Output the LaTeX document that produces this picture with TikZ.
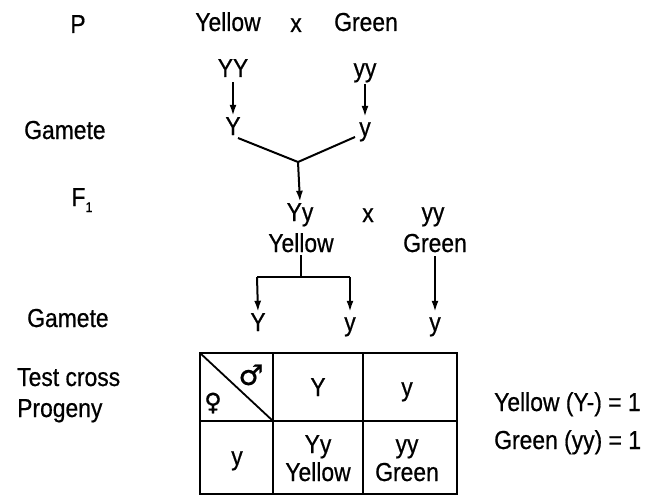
\documentclass[tikz,border=0pt]{standalone}
\usepackage{fontspec}
\setmainfont{Liberation Sans}[FakeStretch=0.88,FakeBold=0.6]
\newfontfamily\symfont{DejaVu Sans}[FakeBold=0.6]
\usetikzlibrary{arrows.meta}
\tikzset{
  lab/.style={inner sep=0pt, anchor=center, text height=19pt, text depth=1pt, font=\fontsize{26}{30}\selectfont},
  lft/.style={lab, anchor=west},
  arr/.style={-{Latex[length=11pt,width=7pt]}, line width=2pt},
  ln/.style={line width=2pt},
  grid/.style={line width=1.8pt}
}
\begin{document}
\begin{tikzpicture}[x=1pt,y=-1pt]
\useasboundingbox (0,0) rectangle (648,495);
% left labels
\node[lab] (P) at (78,24) {P};
\node[lft] (gam1) at (24,130) {Gamete};
\node[lab] (F1) at (82,197) {F\raisebox{-6pt}{\fontsize{14}{16}\selectfont 1}};
\node[lft] (gam2) at (27,318) {Gamete};
\node[lft] (tc) at (17,377) {Test cross};
\node[lft] (pr) at (17,408) {Progeny};
% parents
\node[lab] (py) at (228,22) {Yellow};
\node[lab] (px) at (296,23) {x};
\node[lab] (pg) at (366,22) {Green};
\node[lab] (YY) at (233,68) {YY};
\node[lab] (yy1) at (365,68) {yy};
\node[lab] (gY) at (233,126) {Y};
\node[lab] (gy) at (365,127) {y};
\draw[arr] (YY.south) ++(0,4) coordinate (a1) (a1) -- (gY.north);
\draw[arr] (yy1.south) ++(0,6) coordinate (a2) (a2) -- (gy.north);
\coordinate (j) at (298,162);
\coordinate (jl) at (238,138);
\coordinate (jr) at (355,137);
% F1
\node[lab] (Yy) at (300,212) {Yy};
\node[lab] (fx) at (368,213) {x};
\node[lab] (yy2) at (433,212) {yy};
\node[lab] (fyel) at (301,243) {Yellow};
\node[lab] (fgrn) at (435,243) {Green};
\draw[ln] (jl) -- (j) -- (jr);
\draw[arr] (j) -- (Yy.north);
% gametes of test cross
\node[lab] (g1) at (258,322) {Y};
\node[lab] (g2) at (350,322) {y};
\node[lab] (g3) at (435,322) {y};
\coordinate (s1) at (301,277);
\coordinate (bl) at (257,277);
\coordinate (br) at (350,277);
\draw[ln] (fyel.south) ++(0,2) coordinate (s0) (s0) -- (s1);
\draw[ln] (bl) -- (br);
\draw[arr] (bl) -- (g1.north);
\draw[arr] (br) -- (g2.north);
\draw[arr] (fgrn.south) ++(0,3) coordinate (s3) (s3) -- (g3.north);
% table
\coordinate (t0) at (200,353);
\coordinate (t1) at (457,494);
\draw[grid] (t0) rectangle (t1);
\draw[grid] (273,353) -- (273,494);
\draw[grid] (363,353) -- (363,494);
\draw[grid] (200,421) -- (457,421);
\draw[grid] (t0) -- (273,421);
\node[inner sep=0pt, font=\symfont\fontsize{28}{32}\selectfont] (male) at (251,375) {♂};
\node[inner sep=0pt, font=\symfont\fontsize{24}{28}\selectfont] (fem) at (213,403) {♀};
\node[lab] (hY) at (318,387) {Y};
\node[lab] (hy) at (407,387) {y};
\node[lab] (ry) at (237,456) {y};
\node[lab] (c1a) at (318,444) {Yy};
\node[lab] (c1b) at (318,472) {Yellow};
\node[lab] (c2a) at (407,444) {yy};
\node[lab] (c2b) at (407,472) {Green};
% ratio
\node[lft] (r1) at (494,402) {Yellow (Y-) = 1};
\node[lft] (r2) at (494,440) {Green (yy) = 1};
\end{tikzpicture}
\end{document}
